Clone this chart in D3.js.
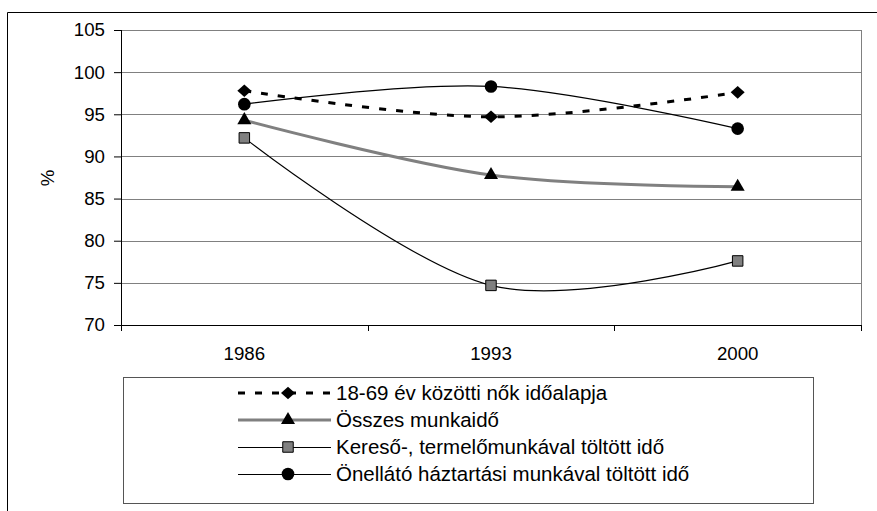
<!DOCTYPE html>
<html>
<head>
<meta charset="utf-8">
<script src="https://cdn.jsdelivr.net/npm/d3@7"></script>
<style>
  body { margin: 0; background: #fff; }
  svg text { font-family: "Liberation Sans", Arial, sans-serif; fill: #000; }
</style>
</head>
<body>
<svg id="chart" width="877" height="511"></svg>
<script>
// data
var years = ["1986", "1993", "2000"]
var yTicks = [70, 75, 80, 85, 90, 95, 100, 105]
var idoalap = [97.8, 94.7, 97.6]
var osszes = [94.3, 87.8, 86.4]
var kereso = [92.2, 74.7, 77.6]
var onellato = [96.2, 98.3, 93.3]
var names = [
	"18-69 év közötti nők időalapja",
	"Összes munkaidő",
	"Kereső-, termelőmunkával töltött idő",
	"Önellátó háztartási munkával töltött idő"
]

var svg = d3.select("#chart")
var margin = {top: 30, right: 16, bottom: 186, left: 121}
var width = 877 - margin.left - margin.right
var height = 511 - margin.top - margin.bottom

// outer frame (clipped by the window at right and bottom)
svg.append("path")
	.attr("d", "M7.5,600 L7.5,12.5 L900,12.5")
	.attr("fill", "none").attr("stroke", "#000").attr("stroke-width", 1)

var g = svg.append("g").attr("transform", "translate(" + margin.left + "," + margin.top + ")")

var x = d3.scaleBand().domain(years).range([0, width])
var y = d3.scaleLinear().domain([70, 105]).range([height, 0])

// gridlines
g.append("g").selectAll("line").data(yTicks.filter(function(d) { return d > 70 }))
	.enter().append("line")
	.attr("x1", 0).attr("x2", width)
	.attr("y1", function(d) { return Math.round(y(d)) + 0.5 })
	.attr("y2", function(d) { return Math.round(y(d)) + 0.5 })
	.attr("stroke", "#808080")

g.append("line")
	.attr("x1", width + 0.5).attr("x2", width + 0.5)
	.attr("y1", 0).attr("y2", height)
	.attr("stroke", "#808080")

// axes
var yAxis = g.append("g")
	.call(d3.axisLeft(y).tickValues(yTicks).tickSize(7).tickPadding(9))
yAxis.select(".domain").attr("d", "M0.5," + height + "V0")
yAxis.selectAll("text").style("font-size", "18.7px")

var xAxis = g.append("g").attr("transform", "translate(0," + height + ")")
	.call(d3.axisBottom(x).tickSize(0).tickPadding(22))
xAxis.select(".domain").attr("d", "M0,0.5H" + width)
xAxis.selectAll("text").style("font-size", "18.7px")
xAxis.selectAll(".sep").data(d3.range(years.length + 1)).enter().append("line")
	.attr("x1", function(i) { return Math.round(i * x.step()) + 0.5 })
	.attr("x2", function(i) { return Math.round(i * x.step()) + 0.5 })
	.attr("y1", 0).attr("y2", 6).attr("stroke", "#000")

svg.append("text")
	.attr("transform", "translate(54,178) rotate(-90)")
	.attr("text-anchor", "middle")
	.style("font-size", "18.7px")
	.text("%")

var diamond = {
	draw: function(ctx, size) {
		var r = Math.sqrt(size / 2)
		ctx.moveTo(0, -r * 0.9)
		ctx.lineTo(r, 0)
		ctx.lineTo(0, r * 0.9)
		ctx.lineTo(-r, 0)
		ctx.closePath()
	}
}

var series = [
	{values: idoalap, color: "#000", width: 3, dash: "7,10", marker: diamond, size: 98, fill: "#000"},
	{values: osszes, color: "#808080", width: 3, dash: null, marker: d3.symbolTriangle, size: 85, fill: "#000"},
	{values: kereso, color: "#000", width: 1.2, dash: null, marker: d3.symbolSquare, size: 110, fill: "#808080"},
	{values: onellato, color: "#000", width: 1.2, dash: null, marker: d3.symbolCircle, size: 125, fill: "#000"}
]

var line = d3.line()
	.x(function(d, i) { return x(years[i]) + x.bandwidth() / 2 })
	.y(function(d) { return y(d) })
	.curve(d3.curveCardinal.tension(0))

series.forEach(function(s) {
	g.append("path").datum(s.values)
		.attr("d", line)
		.attr("fill", "none")
		.attr("stroke", s.color)
		.attr("stroke-width", s.width)
		.attr("stroke-dasharray", s.dash)
})

series.forEach(function(s) {
	g.selectAll(null).data(s.values).enter().append("path")
		.attr("d", d3.symbol().type(s.marker).size(s.size))
		.attr("transform", function(d, i) {
			return "translate(" + (x(years[i]) + x.bandwidth() / 2) + "," + y(d) + ")"
		})
		.attr("fill", s.fill)
		.attr("stroke", s.fill == "#808080" ? "#000" : "none")
})

// legend
var lg = svg.append("g").attr("transform", "translate(123,377)")
lg.append("rect")
	.attr("x", 0.5).attr("y", 0.5).attr("width", 690).attr("height", 126)
	.attr("fill", "#fff").attr("stroke", "#555")

series.forEach(function(s, i) {
	var row = lg.append("g").attr("transform", "translate(0," + (16 + i * 27) + ")")
	var off = s.width < 2 ? 0.5 : 0
	row.append("line")
		.attr("x1", 115).attr("x2", 208).attr("y1", off).attr("y2", off)
		.attr("stroke", s.color).attr("stroke-width", s.width < 2 ? 1 : s.width)
		.attr("stroke-dasharray", s.dash)
	row.append("path")
		.attr("d", d3.symbol().type(s.marker).size(s.size))
		.attr("transform", "translate(165,0)")
		.attr("fill", s.fill)
		.attr("stroke", s.fill == "#808080" ? "#000" : "none")
	row.append("text")
		.attr("x", 213).attr("dy", "0.35em")
		.style("font-size", "20.5px")
		.text(names[i])
})
</script>
</body>
</html>
